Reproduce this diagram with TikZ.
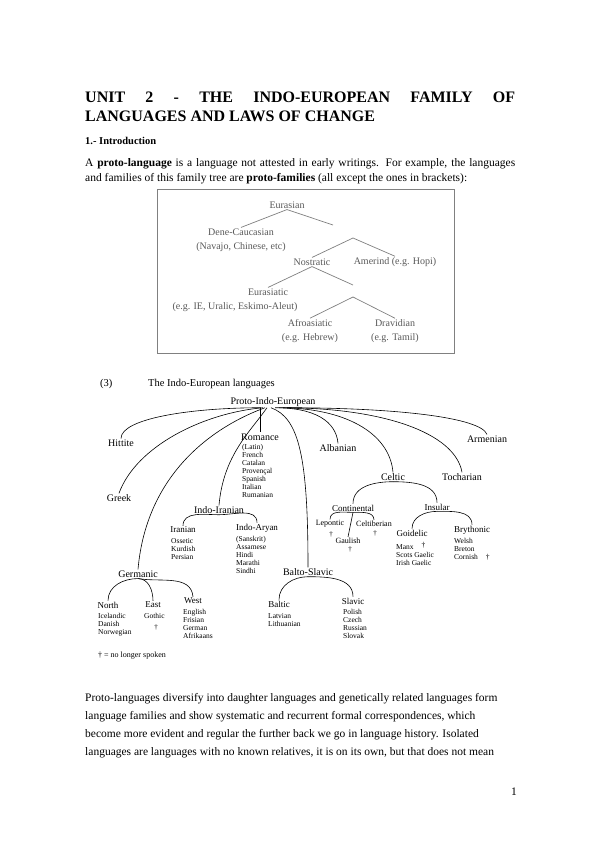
\documentclass[tikz,border=0pt]{standalone}
\usepackage{fontspec}
\setmainfont{Liberation Serif}
\usetikzlibrary{positioning}

\tikzset{
  title/.style={anchor=west, inner sep=0pt, font=\fontsize{16}{19}\selectfont\bfseries},
  body/.style={anchor=west, inner sep=0pt, font=\fontsize{11.5}{13}\selectfont},
  boxtxt/.style={text=black!65, inner sep=1pt, align=center, font=\fontsize{10}{14}\selectfont},
  boxline/.style={draw=black!50, line width=0.7pt},
  fam/.style={inner sep=1pt, font=\fontsize{10}{11}\selectfont},
  subfam/.style={inner sep=1pt, font=\fontsize{9}{10}\selectfont},
  langs/.style={anchor=north west, inner sep=0pt, align=left, font=\fontsize{7.5}{8}\selectfont},
  branch/.style={line width=0.6pt},
}

\begin{document}
\begin{tikzpicture}[x=1pt, y=1pt]
  \useasboundingbox[fill=white] (0,0) rectangle (599,-848);

  % Heading and introduction
  \node[title] (t1) at (85,-97) {\makebox[430pt][s]{UNIT 2 - THE INDO-EUROPEAN FAMILY OF}};
  \node[title] (t2) at (85,-116) {LANGUAGES AND LAWS OF CHANGE};
  \node[body, font=\fontsize{10.5}{13}\selectfont\bfseries] (sec) at (85,-141) {1.- Introduction};
  \node[body] (p1) at (85,-164) {\makebox[430pt][s]{A \textbf{proto-language} is a language not attested in early writings. For example, the languages}};
  \node[body] (p2) at (85,-179) {and families of this family tree are \textbf{proto-families} (all except the ones in brackets):};

  % Grey box: Eurasian tree
  \draw[draw=black!50, line width=0.8pt] (157,-189) rectangle (454,-353);
  \node[boxtxt] (eura) at (287,-205) {Eurasian};
  \node[boxtxt] (dene) at (241,-240) {Dene-Caucasian\\(Navajo, Chinese, etc)};
  \node[boxtxt] (nost) at (312,-262) {Nostratic};
  \node[boxtxt] (amer) at (395,-262) {Amerind (e.g. Hopi)};
  \node[boxtxt] (eurs) at (268,-292) {Eurasiatic};
  \node[boxtxt] (eursx) at (235,-307) {(e.g. IE, Uralic, Eskimo-Aleut)};
  \node[boxtxt] (afro) at (310,-331) {Afroasiatic\\(e.g. Hebrew)};
  \node[boxtxt] (drav) at (395,-331) {Dravidian\\(e.g. Tamil)};
  \coordinate (c1) at (333,-225);
  \coordinate (c2) at (353,-238);
  \coordinate (c3) at (353,-285);
  \coordinate (c4) at (353,-297);
  \draw[boxline] (dene.north) -- (eura.south) -- (c1);
  \draw[boxline] (nost.north) -- (c2) -- (amer.north);
  \draw[boxline] (eurs.north) -- (nost.south) -- (c3);
  \draw[boxline] (afro.north) -- (c4) -- (drav.north);

  % Figure (3)
  \node[body, font=\fontsize{10.5}{12}\selectfont] (fno) at (100,-384) {(3)};
  \node[body, font=\fontsize{10.5}{12}\selectfont] (fcap) at (148,-384) {The Indo-European languages};

  \node[fam] (root) at (273,-402) {Proto-Indo-European};
  \node[fam] (hit) at (121,-443) {Hittite};
  \node[fam] (grk) at (119,-498) {Greek};
  \node[fam] (germ) at (138,-574) {Germanic};
  \node[fam] (indir) at (219,-510) {Indo-Iranian};
  \node[fam] (rom) at (260,-437) {Romance};
  \node[fam] (balsl) at (308,-572) {Balto-Slavic};
  \node[fam] (alb) at (338,-448) {Albanian};
  \node[fam] (celt) at (393,-477) {Celtic};
  \node[fam] (toch) at (462,-477) {Tocharian};
  \node[fam] (arm) at (487,-439) {Armenian};

  % branches leave the root along one flat line
  \foreach \n/\s/\o/\od/\i/\id in {hit/-12/180/70/90/20, grk/-10/185/60/70/50,
                                   germ/-8/200/50/85/100, indir/-6/235/30/85/50,
                                   balsl/-2/-20/30/90/110, alb/2/0/40/95/22,
                                   celt/6/0/65/95/40, toch/10/0/100/100/40, arm/14/0/110/110/18}
    \draw[branch] ([xshift=\s pt]root.south)
      to[out=\o, in=\i, out distance=\od pt, in distance=\id pt] (\n.north);
  \draw[branch] ([xshift=-13pt]root.south) -- (rom.north);

  \node[langs] (romL) at (242,-444) {(Latin)\\French\\Catalan\\Provençal\\Spanish\\Italian\\Rumanian};

  % Celtic
  \node[subfam] (cont) at (353,-508) {Continental};
  \node[subfam] (insu) at (437,-507) {Insular};
  \node[subfam, font=\fontsize{8}{9}\selectfont] (lep) at (330,-524) {Lepontic};
  \node[subfam, font=\fontsize{8}{9}\selectfont] (gaul) at (348,-541) {Gaulish};
  \node[subfam, font=\fontsize{8}{9}\selectfont] (celtib) at (374,-524) {Celtiberian};
  \node[inner sep=0pt, font=\fontsize{7}{8}\selectfont] (lepd) at (331,-534) {†};
  \node[inner sep=0pt, font=\fontsize{7}{8}\selectfont] (gauld) at (350,-549) {†};
  \node[inner sep=0pt, font=\fontsize{7}{8}\selectfont] (celtibd) at (375,-533) {†};
  \node[subfam] (goid) at (412,-533) {Goidelic};
  \node[subfam] (bryth) at (472,-530) {Brythonic};
  \node[langs] (goidL) at (396,-542) {Manx\hspace{8pt}\raisebox{2pt}{†}\\Scots Gaelic\\Irish Gaelic};
  \node[langs] (brythL) at (454,-538) {Welsh\\Breton\\Cornish\hspace{8pt}†};
  \draw[branch] (celt.south) to[out=180, in=90] (cont.north);
  \draw[branch] (celt.south) to[out=0, in=90] (insu.north);
  \draw[branch] (cont.south) to[out=180, in=90] (lep.north);
  \draw[branch] (cont.south) -- (gaul.north);
  \draw[branch] (cont.south) to[out=0, in=90] (celtib.north);
  \draw[branch] (insu.south) to[out=180, in=90] (goid.north);
  \draw[branch] (insu.south) to[out=0, in=90] (bryth.north);

  % Indo-Iranian
  \node[subfam] (iran) at (183,-530) {Iranian};
  \node[subfam] (indar) at (257,-528) {Indo-Aryan};
  \node[langs] (iranL) at (171,-538) {Ossetic\\Kurdish\\Persian};
  \node[langs] (indarL) at (236,-536) {(Sanskrit)\\Assamese\\Hindi\\Marathi\\Sindhi};
  \draw[branch] (indir.south) to[out=180, in=90] (iran.north);
  \draw[branch] (indir.south) to[out=0, in=90] (indar.north);

  % Germanic
  \node[subfam] (north) at (108,-605) {North};
  \node[subfam] (east) at (153,-605) {East};
  \node[subfam] (west) at (193,-601) {West};
  \node[langs] (northL) at (98,-613) {Icelandic\\Danish\\Norwegian};
  \node[langs] (eastL) at (144,-613) {Gothic};
  \node[inner sep=0pt, font=\fontsize{7}{8}\selectfont] (eastd) at (156,-627) {†};
  \node[langs] (westL) at (183,-609) {English\\Frisian\\German\\Afrikaans};
  \draw[branch] (germ.south) to[out=180, in=90] (north.north);
  \draw[branch] (germ.south) to[out=0, in=90] (east.north);
  \draw[branch] (germ.south) to[out=-10, in=95] (west.north);

  % Balto-Slavic
  \node[subfam] (balt) at (279,-604) {Baltic};
  \node[subfam] (slav) at (353,-601) {Slavic};
  \node[langs] (baltL) at (268,-613) {Latvian\\Lithuanian};
  \node[langs] (slavL) at (343,-609) {Polish\\Czech\\Russian\\Slovak};
  \draw[branch] (balsl.south) to[out=180, in=90] (balt.north);
  \draw[branch] (balsl.south) to[out=0, in=90] (slav.north);

  \node[body, font=\fontsize{8}{9}\selectfont] (legend) at (98,-656) {† = no longer spoken};

  % Closing paragraph
  \node[body] (q1) at (85,-699) {Proto-languages diversify into daughter languages and genetically related languages form};
  \node[body] (q2) at (85,-717) {language families and show systematic and recurrent formal correspondences, which};
  \node[body] (q3) at (85,-735) {become more evident and regular the further back we go in language history. Isolated};
  \node[body] (q4) at (85,-753) {languages are languages with no known relatives, it is on its own, but that does not mean};
  \node[body] (pg) at (511,-792) {1};
\end{tikzpicture}
\end{document}
